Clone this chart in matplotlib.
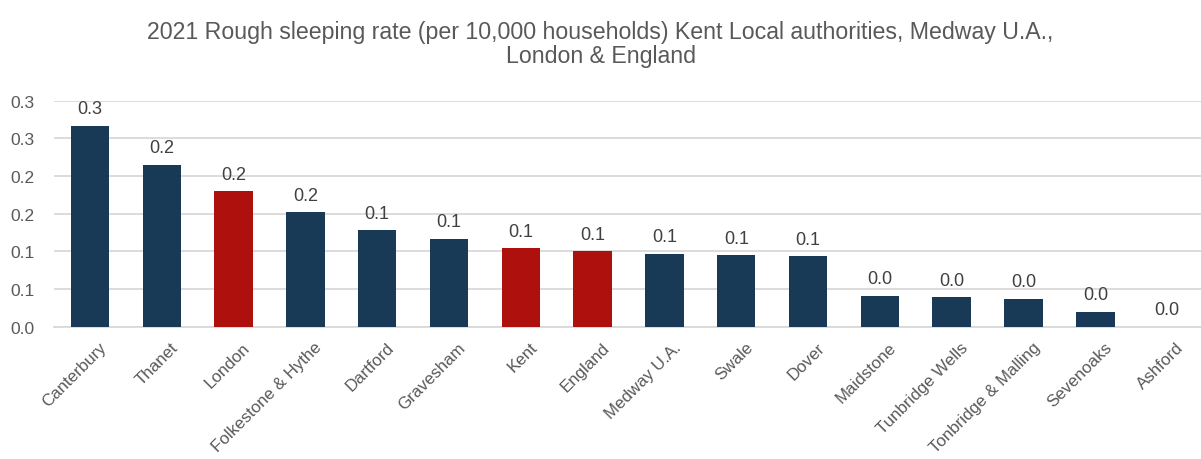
import matplotlib.pyplot as plt
import matplotlib.transforms as mtransforms
import numpy as np
from matplotlib.ticker import MultipleLocator, FormatStrFormatter

plt.rcParams['font.family'] = ['Liberation Sans', 'DejaVu Sans']

areas = ['Canterbury', 'Thanet', 'London', 'Folkestone & Hythe', 'Dartford',
         'Gravesham', 'Kent', 'England', 'Medway U.A.', 'Swale', 'Dover',
         'Maidstone', 'Tunbridge Wells', 'Tonbridge & Malling', 'Sevenoaks',
         'Ashford']
rates = [0.267, 0.215, 0.180, 0.152, 0.128, 0.117, 0.104, 0.100, 0.097,
         0.095, 0.094, 0.041, 0.039, 0.037, 0.020, 0.0]
# regional comparators drawn in red
comparators = ['London', 'Kent', 'England']

navy = '#183a56'
red = '#ad100d'
grid_col = '#d9d9d9'
text_col = '#404040'

fig = plt.figure(figsize=(12.01, 4.6), dpi=100)
ax = fig.add_axes([0.045, 0.2876, 0.9567, 0.4914])

x = np.arange(len(areas))
colors = [red if a in comparators else navy for a in areas]
bars = ax.bar(x, rates, width=0.535, color=colors, zorder=3)

for xi, v in zip(x, rates):
    ax.annotate(f'{v:.1f}', (xi, v), xytext=(0, 6), textcoords='offset points',
                ha='center', va='bottom', fontsize=13, color=text_col)

ax.set_xlim(-0.5, len(areas) - 0.5)
ax.set_ylim(0, 0.30)
ax.yaxis.set_major_locator(MultipleLocator(0.05))
ax.yaxis.set_major_formatter(FormatStrFormatter('%.1f'))
ax.yaxis.grid(True, color=grid_col, linewidth=1.3, zorder=0)
ax.set_axisbelow(True)

for s in ['top', 'right', 'left']:
    ax.spines[s].set_visible(False)
ax.spines['bottom'].set_color(grid_col)
ax.spines['bottom'].set_linewidth(1.3)

ax.tick_params(axis='y', length=0, labelsize=12.5, labelcolor='#595959', pad=14)
ax.tick_params(axis='x', length=0, labelsize=12.2, labelcolor='#595959', pad=9)
ax.set_xticks(x)
ax.set_xticklabels(areas, rotation=45, ha='right', va='top', rotation_mode='anchor')

# nudge the rotated category labels so their ends sit just right of the bar centre
shift = mtransforms.ScaledTranslation(9 / 100, 0, fig.dpi_scale_trans)
for lbl in ax.get_xticklabels():
    lbl.set_transform(lbl.get_transform() + shift)

fig.suptitle('2021 Rough sleeping rate (per 10,000 households) Kent Local authorities, Medway U.A.,\nLondon & England',
             x=0.5, y=0.955, fontsize=16.7, color='#595959', linespacing=1.1)

fig.savefig('out.png', dpi=100)
